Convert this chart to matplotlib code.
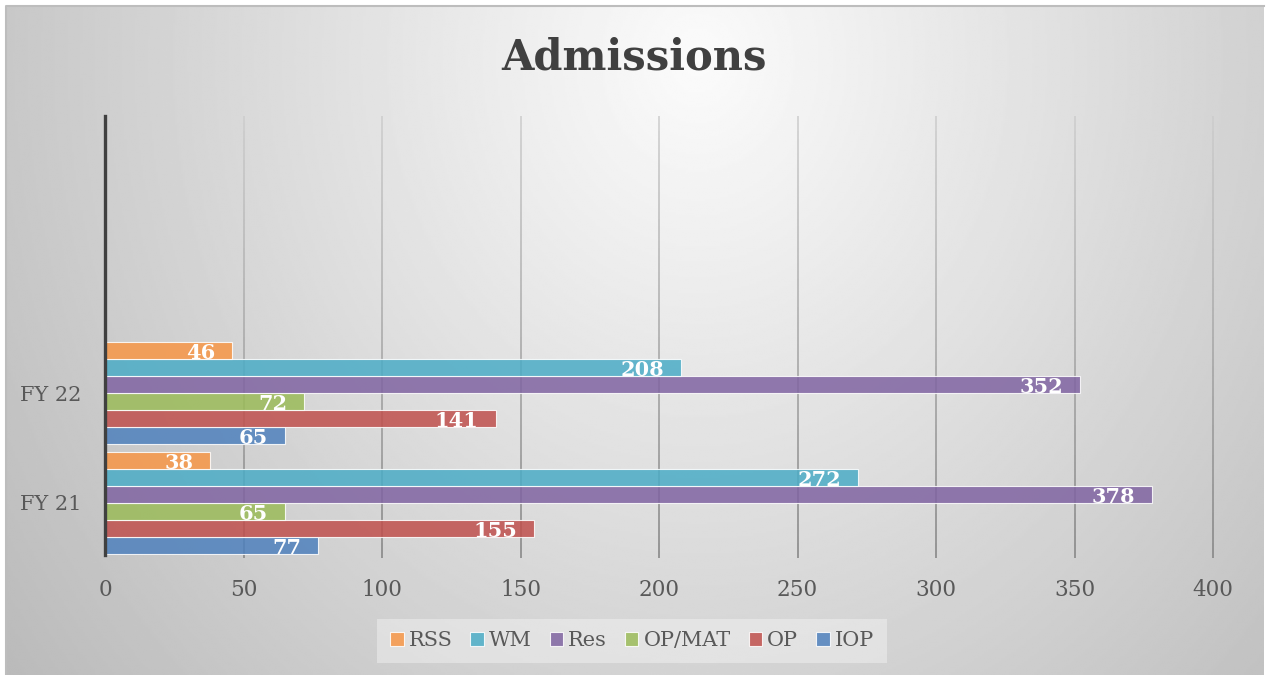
import numpy as np
import matplotlib.pyplot as plt
from matplotlib.collections import LineCollection
from matplotlib.patches import Patch
import matplotlib.transforms as mtransforms

# ---- data ----
categories = ["FY 21", "FY 22"]
series_names = ["IOP", "OP", "OP/MAT", "Res", "WM", "RSS"]
iop = [77, 65]
op = [155, 141]
op_mat = [65, 72]
res = [378, 352]
wm = [272, 208]
rss = [38, 46]
x_ticks = [0, 50, 100, 150, 200, 250, 300, 350, 400]

series_values = [iop, op, op_mat, res, wm, rss]
series_colors = ["#4F81BD", "#C0504D", "#9BBB59", "#8064A2", "#4BACC6", "#F79646"]

FONT = "DejaVu Serif"
W, H = 1266, 675
fig = plt.figure(figsize=(W / 100, H / 100), dpi=100, facecolor="white")

# ---- soft radial background of the chart area ----
bg = fig.add_axes([6 / W, 0, (1264 - 6) / W, (675 - 6) / H])
ny, nx = 300, 600
yy, xx = np.mgrid[0:1:ny * 1j, 0:1:nx * 1j]
r = np.sqrt(((xx - 0.55) / 0.6) ** 2 + ((yy - 0.08) / 1.3) ** 2)
shade = 0.985 - 0.22 * np.clip(r, 0, 1.15)
bg.imshow(shade, cmap="gray", vmin=0, vmax=1, extent=[0, 1, 1, 0],
          aspect="auto", interpolation="bilinear")
bg.set_xlim(0, 1)
bg.set_ylim(1, 0)
bg.axis("off")
# thin darker edge along the left and top of the chart area
bg.plot([0, 0, 1], [0, 1, 1], color="#bdbdbd", lw=1.5,
        transform=bg.transAxes, clip_on=False)

# ---- plot area ----
ax = fig.add_axes([105 / W, 1 - 555 / H, (1213 - 105) / W, (555 - 116) / H])
ax.set_facecolor("none")
ax.set_xlim(0, 400)
ax.set_ylim(-0.474, 3.526)

# vertical gridlines fading from light at the top to darker at the bottom
blend = mtransforms.blended_transform_factory(ax.transData, ax.transAxes)
nseg = 60
ys = np.linspace(1.0, -0.006, nseg + 1)
segs, cols = [], []
for xv in x_ticks[1:]:
    for k in range(nseg):
        segs.append([(xv, ys[k]), (xv, ys[k + 1])])
        g = 0.80 - 0.29 * (k / (nseg - 1))
        cols.append((g, g, g, 1.0))
lc = LineCollection(segs, colors=cols, linewidths=1.1, transform=blend,
                    zorder=1, clip_on=False)
ax.add_collection(lc)

# ---- bars ----
slot = 17 / 109.75
ypos = np.arange(len(categories))
for i, (vals, col) in enumerate(zip(series_values, series_colors)):
    y = ypos + (i - 2.5) * slot
    ax.barh(y, vals, height=slot, color=col, alpha=0.85,
            edgecolor=(1, 1, 1, 0.55), linewidth=0.8, zorder=3)
    for yv, v in zip(y, vals):
        ax.text(v - 6.2, yv - 0.025, f"{v}", ha="right", va="center",
                color="white", fontsize=15, fontweight="bold",
                family=FONT, zorder=4)

# ---- axes styling ----
for s in ["top", "right", "bottom"]:
    ax.spines[s].set_visible(False)
ax.spines["left"].set_color("#404040")
ax.spines["left"].set_linewidth(2.4)
ax.spines["left"].set_zorder(5)

ax.set_xticks(x_ticks)
ax.set_xticklabels([str(t) for t in x_ticks], family=FONT, fontsize=15.5,
                   color="#595959")
ax.tick_params(axis="x", length=0, pad=17)
ax.set_yticks(ypos)
ax.set_yticklabels(categories, family=FONT, fontsize=15, color="#595959")
ax.tick_params(axis="y", length=0, pad=17)

# ---- title ----
fig.text(634 / W, 1 - 58 / H, "Admissions", ha="center", va="center",
         family=FONT, fontweight="bold", fontsize=30, color="#404040")

# ---- legend ----
handles = [Patch(facecolor=c, alpha=0.85, edgecolor=(1, 1, 1, 0.6), linewidth=0.8)
           for c in series_colors[::-1]]
leg = fig.legend(handles, series_names[::-1], loc="center",
                 bbox_to_anchor=(632 / W, 1 - 641 / H), ncol=6,
                 frameon=True, facecolor="white", framealpha=0.35,
                 edgecolor="none", fancybox=False,
                 prop={"family": FONT, "size": 15},
                 handlelength=0.65, handleheight=0.65, handletextpad=0.25,
                 columnspacing=0.85, borderpad=0.6)
for t in leg.get_texts():
    t.set_color("#595959")

fig.savefig("out.png", dpi=100, facecolor="white")
